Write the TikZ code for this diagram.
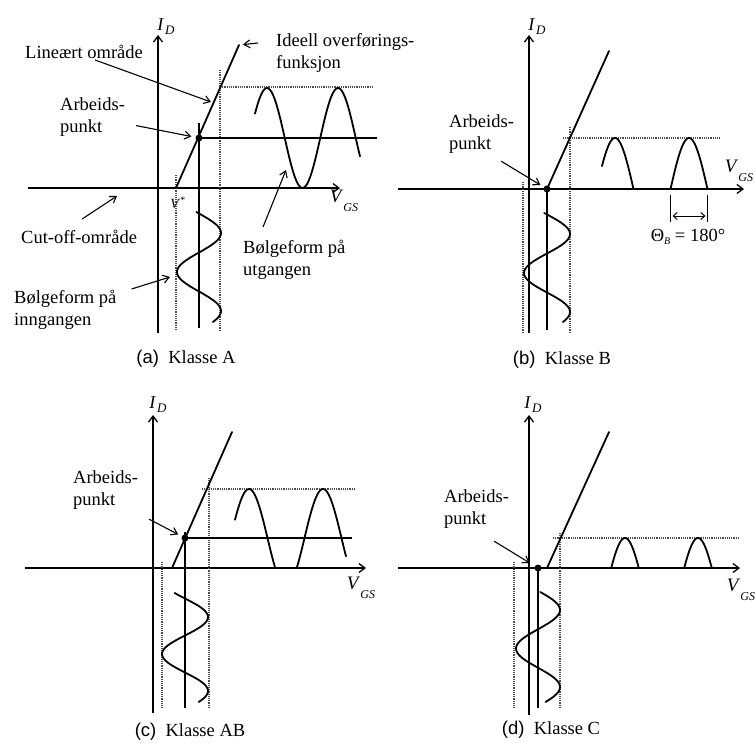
\documentclass[tikz,border=0pt]{standalone}
\usepackage{fontspec}
\setmainfont{Liberation Serif}
\newfontfamily\capsans{Liberation Sans}
\usepackage{tikz}
\usetikzlibrary{arrows.meta}
\tikzset{
  axis/.style={line width=1.3pt, -{Straight Barb[length=6pt,width=9pt]}},
  curve/.style={line width=1.8pt, line cap=round, line join=round},
  wave/.style={curve, smooth, samples=70},
  level line/.style={line width=1.3pt},
  guide/.style={densely dotted, line width=1.2pt, draw=black!70},
  ptr/.style={line width=1.1pt, -{Straight Barb[length=6pt,width=8pt]}},
  lbl/.style={font=\fontsize{18.5}{22}\selectfont, inner sep=1pt, align=left},
  captxt/.style={font=\fontsize{18.5}{22}\selectfont, inner sep=1pt},
  qdot/.style={circle, fill=black, inner sep=0pt, minimum size=7pt}
}
\newcommand{\idlbl}{\fontsize{18}{18}\selectfont\textit{I}\kern1pt\raisebox{-0.5ex}{\fontsize{13}{13}\selectfont\textit{D}}}
\newcommand{\vgslbl}{\fontsize{19}{19}\selectfont\textit{V}\raisebox{-1.1ex}{\fontsize{12}{12}\selectfont\textit{GS}}}

\begin{document}
\begin{tikzpicture}[x=1pt, y=-1pt]
  \useasboundingbox (0,0) rectangle (755,747);

  % (a) Klasse A
  \draw[axis] (158,333) -- (158,35);
  \draw[axis] (28,188) -- (340,188);
  \draw[guide] (176,175) -- (176,330);
  \draw[guide] (220,70) -- (220,330);
  \draw[guide] (220,87) -- (373,87);
  \draw[level line] (199,123) -- (199,328);
  \draw[level line] (199,138) -- (377,138);
  \coordinate (VsA) at (176,188);
  \coordinate (TopA) at (239,45);
  \draw[curve] (VsA) -- (TopA);
  \draw[wave] plot[domain=255:360] (\x,{138-50*cos((\x-267)/71*360)});
  \draw[wave] plot[domain=212:322, variable=\t] ({199+22*cos((\t-233)/78*360)},\t);
  \node[qdot] (QA) at (199,138) {};
  \coordinate (LinPt) at (211,102);
  \coordinate (CutPt) at (117,196);
  \coordinate (InPt) at (170,277);
  \coordinate (OutPt) at (286,170);

  \node[inner sep=0pt] (IDa) at (166,27) {\idlbl};
  \node[inner sep=0pt] (VGSa) at (344,201) {\vgslbl};
  \node[inner sep=0pt, font=\fontsize{14}{14}\selectfont] (Vstar) at (178,203) {\textit{V}\textsuperscript{*}};

  \node[lbl, anchor=west] (linA) at (24,52) {Lineært område};
  \node[lbl, anchor=north west] (idealA) at (275,32) {Ideell overførings-\\funksjon};
  \node[lbl, anchor=north west] (arbA) at (59,96) {Arbeids-\\punkt};
  \node[lbl, anchor=west] (cutA) at (20,237) {Cut-off-område};
  \node[lbl, anchor=north west] (outA) at (242,239) {Bølgeform på\\utgangen};
  \node[lbl, anchor=north west] (inA) at (13,289) {Bølgeform på\\inngangen};

  \draw[ptr] ([xshift=11pt]linA.south) -- (LinPt);
  \draw[ptr, shorten >=4pt] ([xshift=-17pt,yshift=-11pt]idealA.north west) -- (TopA);
  \draw[ptr, shorten >=4pt] ([xshift=10pt,yshift=-9pt]arbA.east) -- (QA);
  \draw[ptr] ([xshift=3pt,yshift=10pt]cutA.north) -- (CutPt);
  \draw[ptr] ([xshift=21pt,yshift=12pt]outA.north west) -- (OutPt);
  \draw[ptr] ([xshift=14pt]inA.north east) -- (InPt);

  \node[captxt] (capA) at (186,359) {{\capsans (a)}\enspace Klasse A};

  % (b) Klasse B
  \draw[axis] (529,333) -- (529,35);
  \draw[axis] (398,189) -- (744,189);
  \draw[guide] (523,182) -- (523,332);
  \draw[guide] (570,127) -- (570,332);
  \draw[guide] (563,138) -- (720,138);
  \draw[level line] (547,189) -- (547,330);
  \coordinate (VsB) at (547,189);
  \coordinate (TopB) at (609,51);
  \draw[curve] (VsB) -- (TopB);
  \draw[wave] plot[domain=602:633.5] (\x,{189-51*cos((\x-615)/74*360)});
  \draw[wave] plot[domain=670.5:707.5] (\x,{189-51*cos((\x-689)/74*360)});
  \draw[wave] plot[domain=213:322, variable=\t] ({547+23*cos((\t-234)/78*360)},\t);
  \node[qdot] (QB) at (547,189) {};

  \coordinate (ThL) at (670.5,195);
  \coordinate (ThR) at (707.5,195);
  \draw[level line] (ThL) -- ++(0,27);
  \draw[level line] (ThR) -- ++(0,27);
  \draw[line width=1pt, {Straight Barb[length=4pt,width=7pt]}-{Straight Barb[length=4pt,width=7pt]}]
    ([yshift=-21pt,xshift=2pt]ThL) -- ([yshift=-21pt,xshift=-2pt]ThR);
  \node[captxt] (thB) at (688,237) {Θ\raisebox{-0.4ex}{\fontsize{10}{10}\selectfont\textit{B}} = 180°};

  \node[inner sep=0pt] (IDb) at (537,27) {\idlbl};
  \node[inner sep=0pt] (VGSb) at (739,171) {\vgslbl};
  \node[lbl, anchor=north west] (arbB) at (448,113) {Arbeids-\\punkt};
  \draw[ptr, shorten >=4pt] ([xshift=-14pt,yshift=-7pt]arbB.south east) -- (QB);

  \node[captxt] (capB) at (562,360) {{\capsans (b)}\enspace Klasse B};

  % (c) Klasse AB
  \draw[axis] (153,713) -- (153,415);
  \draw[axis] (25,568) -- (366,568);
  \draw[guide] (162,562) -- (162,708);
  \draw[guide] (209,478) -- (209,708);
  \draw[guide] (202,489) -- (355,489);
  \draw[level line] (185,532) -- (185,708);
  \draw[level line] (185,538) -- (352,538);
  \coordinate (VsC) at (172,568);
  \coordinate (TopC) at (232,432);
  \draw[curve] (VsC) -- (TopC);
  \draw[wave] plot[domain=235:346, samples=120] (\x,{min(568,538-49*cos((\x-249)/74*360))});
  \draw[wave] plot[domain=593:702, variable=\t] ({185+23*cos((\t-617)/74*360)},\t);
  \node[qdot] (QC) at (185,538) {};

  \node[inner sep=0pt] (IDc) at (158,405) {\idlbl};
  \node[inner sep=0pt] (VGSc) at (361,588) {\vgslbl};
  \node[lbl, anchor=north west] (arbC) at (72,469) {Arbeids-\\punkt};
  \draw[ptr, shorten >=4pt] ([xshift=10pt,yshift=-9pt]arbC.south east) -- (QC);

  \node[captxt] (capC) at (190,732) {{\capsans (c)}\enspace Klasse AB};

  % (d) Klasse C
  \draw[axis] (529,715) -- (529,415);
  \draw[axis] (398,568) -- (740,568);
  \draw[guide] (514,562) -- (514,708);
  \draw[guide] (560,533) -- (560,708);
  \draw[guide] (553,538) -- (738,538);
  \draw[level line] (538,568) -- (538,708);
  \coordinate (VsD) at (547,568);
  \coordinate (TopD) at (609,432);
  \draw[curve] (VsD) -- (TopD);
  \draw[wave] plot[domain=611.2:638.8] (\x,{586-48*cos((\x-625)/73*360)});
  \draw[wave] plot[domain=684.2:711.8] (\x,{586-48*cos((\x-698)/73*360)});
  \draw[wave] plot[domain=592:702, variable=\t] ({538+22*cos((\t-610)/77*360)},\t);
  \node[qdot] (QD) at (538,568) {};

  \node[inner sep=0pt] (IDd) at (533,405) {\idlbl};
  \node[inner sep=0pt] (VGSd) at (741,590) {\vgslbl};
  \node[lbl, anchor=north west] (arbD) at (443,488) {Arbeids-\\punkt};
  \draw[ptr, shorten >=6pt] ([xshift=-16pt,yshift=-12pt]arbD.south east) -- (QD);

  \node[captxt] (capD) at (551,730) {{\capsans (d)}\enspace Klasse C};
\end{tikzpicture}
\end{document}
